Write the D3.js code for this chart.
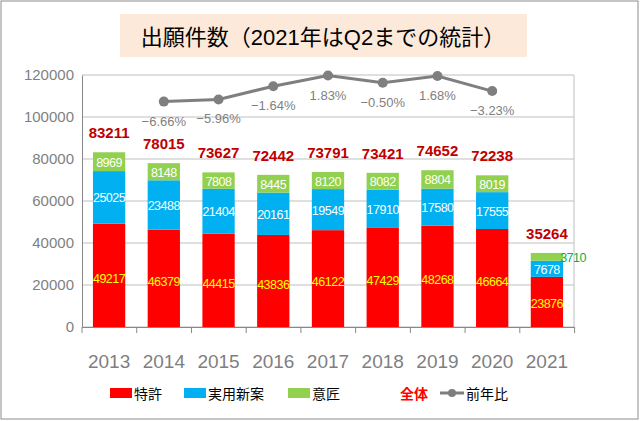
<!DOCTYPE html>
<html><head><meta charset="utf-8">
<script src="https://cdn.jsdelivr.net/npm/d3@7"></script>
<style>body{margin:0;background:#fff;font-family:Arial,"Liberation Sans","Noto Sans CJK JP",sans-serif}</style>
</head><body>
<script>
var years = ["2013","2014","2015","2016","2017","2018","2019","2020","2021"];
var patent = [49217,46379,44415,43836,46122,47429,48268,46664,23876];
var utility = [25025,23488,21404,20161,19549,17910,17580,17555,7678];
var design = [8969,8148,7808,8445,8120,8082,8804,8019,3710];
var total = [83211,78015,73627,72442,73791,73421,74652,72238,35264];
var yoy = [null,-6.66,-5.96,-1.64,1.83,-0.50,1.68,-3.23,null];
var yTicks = [0,20000,40000,60000,80000,100000,120000];

var W = 640, H = 421;
var margin = {top: 75, right: 66, bottom: 94, left: 82};
var svg = d3.select("body").append("svg").attr("width", W).attr("height", H);
svg.append("rect").attr("x",1).attr("y",1).attr("width",W-3).attr("height",H-3)
  .attr("fill","#fff").attr("stroke","#8c8c8c");
svg.append("rect").attr("x",120).attr("y",14).attr("width",407).attr("height",43).attr("fill","#fde9d9");
svg.append("text").attr("x",323).attr("y",45).attr("text-anchor","middle")
  .attr("font-size",22).attr("fill","#000").text("出願件数（2021年はQ2までの統計）");

var x = d3.scaleBand().domain(years).range([margin.left, W-margin.right]).paddingInner(0.41).paddingOuter(0.2);
var y = d3.scaleLinear().domain([0,120000]).range([H-margin.bottom, margin.top]);
var y2 = d3.scaleLinear().domain([-80,2]).range([H-margin.bottom, margin.top]);

var g = svg.append("g");
g.selectAll(".grid").data(yTicks).enter().append("line")
  .attr("x1",margin.left).attr("x2",W-margin.right).attr("y1",y).attr("y2",y)
  .attr("stroke","#bfbfbf");
g.append("line").attr("x1",W-margin.right).attr("x2",W-margin.right)
  .attr("y1",margin.top).attr("y2",H-margin.bottom).attr("stroke","#bfbfbf");

var yAxis = svg.append("g").attr("transform","translate("+margin.left+",0)")
  .call(d3.axisLeft(y).tickValues(yTicks).tickSize(0).tickPadding(8).tickFormat(d3.format("d")));
yAxis.select(".domain").attr("stroke","#888");
yAxis.selectAll("text").attr("font-size",15).attr("fill","#7f7f7f");

var xAxis = svg.append("g").attr("transform","translate(0,"+(H-margin.bottom)+")")
  .call(d3.axisBottom(x).tickSize(0).tickPadding(28));
xAxis.select(".domain").attr("stroke","#888");
xAxis.selectAll("text").attr("font-size",19).attr("fill","#7f7f7f");
xAxis.selectAll(".sep").data(d3.range(years.length+1)).enter().append("line")
  .attr("x1",function(i){return margin.left + i*x.step();})
  .attr("x2",function(i){return margin.left + i*x.step();})
  .attr("y1",0).attr("y2",6).attr("stroke","#888");

var series = [
  {vals: patent, color:"#ff0000", text:"#ffff00"},
  {vals: utility, color:"#00b0f0", text:"#ffffff"},
  {vals: design, color:"#92d050", text:"#ffffff"}
];
years.forEach(function(yr, i){
  var base = 0;
  series.forEach(function(s, k){
    var v = s.vals[i];
    svg.append("rect").attr("x",x(yr)).attr("width",x.bandwidth())
      .attr("y",y(base+v)).attr("height",y(base)-y(base+v)).attr("fill",s.color);
    var ty = k==0 ? y(base+v*0.47) : y(base+v/2);
    var tx = x(yr)+x.bandwidth()/2, fill = s.text;
    if (k==2 && i==8) { tx = x(yr)+x.bandwidth()+10; fill = "#00b050"; }
    svg.append("text").attr("x",tx).attr("y",ty+5).attr("text-anchor","middle")
      .attr("font-size",12.5).attr("letter-spacing",-0.5).attr("fill",fill).text(v);
    base += v;
  });
  svg.append("text").attr("x",x(yr)+x.bandwidth()/2).attr("y",y(total[i])-14)
    .attr("text-anchor","middle").attr("font-size",15).attr("font-weight","bold")
    .attr("fill","#c00000").text(total[i]);
});

var pts = years.map(function(yr,i){return {yr:yr, v:yoy[i]};}).filter(function(d){return d.v!==null;});
var line = d3.line().x(function(d){return x(d.yr)+x.bandwidth()/2;}).y(function(d){return y2(d.v);});
svg.append("path").datum(pts).attr("d",line).attr("fill","none").attr("stroke","#7f7f7f").attr("stroke-width",3);
svg.selectAll(".pt").data(pts).enter().append("circle")
  .attr("cx",function(d){return x(d.yr)+x.bandwidth()/2;}).attr("cy",function(d){return y2(d.v);})
  .attr("r",5).attr("fill","#7f7f7f");
svg.selectAll(".pl").data(pts).enter().append("text")
  .attr("x",function(d){return x(d.yr)+x.bandwidth()/2;}).attr("y",function(d){return y2(d.v)+24;})
  .attr("text-anchor","middle").attr("font-size",13).attr("fill","#7f7f7f")
  .text(function(d){return d3.format(".2f")(d.v)+"%";});

var legend = [
  {x:110, label:"特許", color:"#ff0000", type:"rect"},
  {x:184, label:"実用新案", color:"#00b0f0", type:"rect"},
  {x:288, label:"意匠", color:"#92d050", type:"rect"},
  {x:400, label:"全体", color:"#ff0000", type:"none"},
  {x:440, label:"前年比", color:"#7f7f7f", type:"line"}
];
var lg = svg.append("g").attr("transform","translate(0,395)");
legend.forEach(function(d){
  var tx = d.x + 24;
  if (d.type=="rect") lg.append("rect").attr("x",d.x).attr("y",-7).attr("width",22).attr("height",10).attr("fill",d.color);
  if (d.type=="line") {
    lg.append("line").attr("x1",d.x).attr("x2",d.x+24).attr("y1",-2).attr("y2",-2).attr("stroke",d.color).attr("stroke-width",3);
    lg.append("circle").attr("cx",d.x+12).attr("cy",-2).attr("r",4).attr("fill",d.color);
    tx = d.x + 26;
  }
  if (d.type=="none") tx = d.x;
  lg.append("text").attr("x",tx).attr("y",4).attr("font-size",14)
    .attr("fill", d.type=="none" ? d.color : "#000").attr("font-weight", d.type=="none"?"bold":"normal").text(d.label);
});
</script>
</body></html>
